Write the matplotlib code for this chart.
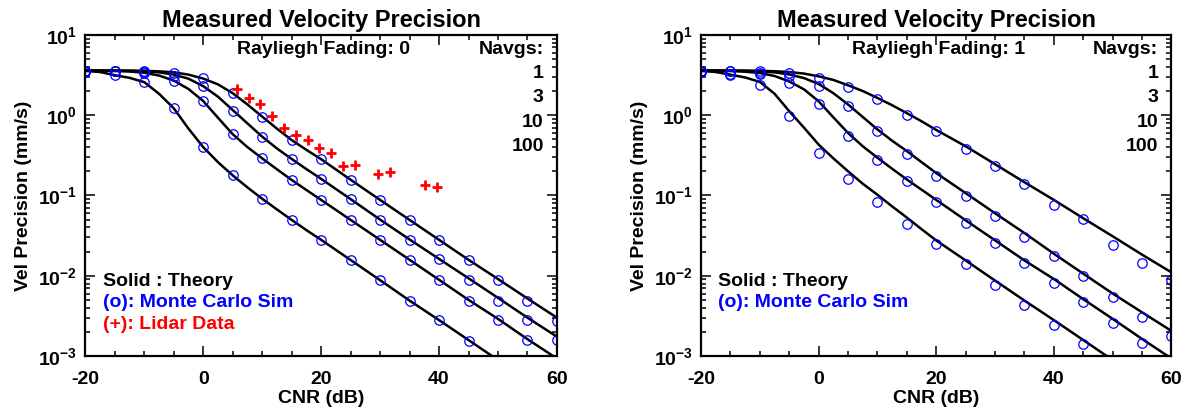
import matplotlib
matplotlib.use('Agg')
import matplotlib.pyplot as plt
from matplotlib.ticker import FixedLocator, LogLocator, NullFormatter

plt.rcParams['font.family'] = ['Liberation Sans', 'DejaVu Sans']
plt.rcParams['font.weight'] = 'bold'
plt.rcParams['mathtext.fontset'] = 'custom'
plt.rcParams['mathtext.bf'] = 'Liberation Sans:bold'
plt.rcParams['mathtext.rm'] = 'Liberation Sans:bold'
plt.rcParams['axes.unicode_minus'] = False

# data
navgs = ['1', '3', '10', '100']
cnr_theory = [-20, -17.5, -15, -12.5, -10, -7.5, -5, -2.5, 0, 2.5, 5, 7.5, 10,
              12.5, 15, 17.5, 20, 25, 30, 35, 40, 45, 50, 55, 60]
cnr_sim = [-20, -15, -10, -5, 0, 5, 10, 15, 20, 25, 30, 35, 40, 45, 50, 55, 60]

# Rayleigh fading 0 : theory
theory0_n1 = [3.6, 3.6, 3.6, 3.59, 3.57, 3.52, 3.42, 3.2, 2.86, 2.42, 1.88, 1.36, 0.96,
              0.68, 0.49, 0.37, 0.283, 0.157, 0.088, 0.0496, 0.028, 0.0158, 0.0091, 0.0052, 0.0030]
theory0_n3 = [3.6, 3.6, 3.59, 3.57, 3.52, 3.42, 3.2, 2.85, 2.3, 1.7, 1.16, 0.79, 0.54,
              0.385, 0.285, 0.213, 0.161, 0.09, 0.05, 0.0283, 0.0162, 0.0093, 0.0053, 0.0030, 0.00174]
theory0_n10 = [3.6, 3.58, 3.55, 3.5, 3.38, 3.12, 2.7, 2.12, 1.5, 0.93, 0.58, 0.4, 0.29,
               0.212, 0.156, 0.117, 0.088, 0.0496, 0.028, 0.0158, 0.0089, 0.0050, 0.0029, 0.00162, 0.00093]
theory0_n100 = [3.56, 3.45, 3.15, 2.92, 2.58, 1.85, 1.22, 0.68, 0.40, 0.26, 0.178, 0.126, 0.091,
                0.067, 0.0496, 0.037, 0.028, 0.0157, 0.0088, 0.0049, 0.0028, 0.00158, 0.00089, 0.0005, 0.00028]

# Rayleigh fading 0 : Monte Carlo
sim0_n1 = [3.6, 3.6, 3.6, 3.4, 2.88, 1.87, 0.95, 0.49, 0.283, 0.156, 0.088, 0.0496, 0.0279,
           0.0157, 0.0089, 0.0049, 0.0027]
sim0_n3 = [3.55, 3.6, 3.5, 3.1, 2.3, 1.14, 0.535, 0.285, 0.161, 0.09, 0.05, 0.028, 0.016,
           0.0089, 0.0049, 0.0028, 0.00158]
sim0_n10 = [3.6, 3.55, 3.35, 2.66, 1.5, 0.575, 0.29, 0.156, 0.088, 0.0496, 0.028, 0.0157, 0.0088,
            0.0049, 0.0028, 0.00158, 0.00088]
sim0_n100 = [3.45, 3.2, 2.6, 1.23, 0.40, 0.178, 0.091, 0.0496, 0.0279, 0.0157, 0.0088, 0.0049, 0.0028,
             0.00155, 0.00088, 0.0005, 0.00028]

# lidar data (fading 0 panel only)
lidar_cnr = [5.7, 7.7, 9.7, 11.7, 13.7, 15.7, 17.7, 19.7, 21.7, 23.7, 25.7, 29.7, 31.7, 37.7, 39.7]
lidar_vals = [2.14, 1.64, 1.37, 0.99, 0.69, 0.57, 0.49, 0.39, 0.335, 0.235, 0.242, 0.185, 0.196,
              0.135, 0.128]

# Rayleigh fading 1 : theory
theory1_n1 = [3.6, 3.6, 3.6, 3.59, 3.57, 3.53, 3.45, 3.3, 3.05, 2.75, 2.36, 2.0, 1.64,
              1.33, 1.06, 0.84, 0.654, 0.41, 0.245, 0.146, 0.088, 0.052, 0.031, 0.0183, 0.011]
theory1_n3 = [3.6, 3.6, 3.59, 3.57, 3.52, 3.42, 3.22, 2.9, 2.45, 1.88, 1.36, 0.95, 0.664,
              0.48, 0.357, 0.26, 0.19, 0.107, 0.06, 0.034, 0.0188, 0.0106, 0.006, 0.0035, 0.00205]
theory1_n10 = [3.6, 3.58, 3.55, 3.48, 3.35, 3.08, 2.63, 2.1, 1.49, 0.94, 0.6, 0.41, 0.295,
               0.215, 0.158, 0.118, 0.088, 0.049, 0.0276, 0.0155, 0.0091, 0.0051, 0.0029, 0.00163, 0.00093]
theory1_n100 = [3.56, 3.45, 3.2, 2.95, 2.6, 1.85, 1.12, 0.7, 0.43, 0.29, 0.2, 0.14, 0.102,
                0.073, 0.053, 0.038, 0.0275, 0.0155, 0.0087, 0.0049, 0.0028, 0.00158, 0.00089, 0.0005, 0.00028]

# Rayleigh fading 1 : Monte Carlo
sim1_n1 = [3.6, 3.6, 3.6, 3.36, 2.91, 2.25, 1.57, 1.02, 0.637, 0.38, 0.231, 0.139, 0.075,
           0.051, 0.0244, 0.0144, 0.0089]
sim1_n3 = [3.55, 3.2, 3.4, 3.05, 2.29, 1.29, 0.63, 0.331, 0.177, 0.0977, 0.055, 0.0307, 0.0174,
           0.0098, 0.0055, 0.0031, 0.00178]
sim1_n10 = [3.6, 3.6, 3.3, 2.52, 1.36, 0.548, 0.276, 0.151, 0.0822, 0.0459, 0.0256, 0.0144, 0.0082,
            0.0047, 0.00256, 0.00147, 0.0008]
sim1_n100 = [3.45, 3.3, 2.38, 0.97, 0.341, 0.159, 0.083, 0.0446, 0.0247, 0.0139, 0.00768, 0.00432,
             0.00246, 0.0014, 0.0008, 0.00045, 0.00025]

panels = [
    (0, [theory0_n1, theory0_n3, theory0_n10, theory0_n100],
     [sim0_n1, sim0_n3, sim0_n10, sim0_n100], True),
    (1, [theory1_n1, theory1_n3, theory1_n10, theory1_n100],
     [sim1_n1, sim1_n3, sim1_n10, sim1_n100], False),
]

fig = plt.figure(figsize=(11.85, 4.09), dpi=100)
axes_pos = [[0.072, 0.1296, 0.398, 0.785], [0.5916, 0.1296, 0.397, 0.785]]

ytick_vals = [1e-3, 1e-2, 1e-1, 1e0, 1e1]
ytick_labels = [r'$\mathbf{10^{-3}}$', r'$\mathbf{10^{-2}}$', r'$\mathbf{10^{-1}}$',
                r'$\mathbf{10^{0}}$', r'$\mathbf{10^{1}}$']

for (fading, theory, sims, show_lidar), pos in zip(panels, axes_pos):
    ax = fig.add_axes(pos)
    for t in theory:
        ax.plot(cnr_theory, t, color='black', lw=1.8, solid_capstyle='round')
    for s in sims:
        ax.plot(cnr_sim, s, ls='none', marker='o', ms=6.8, mfc='none',
                mec='#0000ff', mew=0.9)
    if show_lidar:
        ax.plot(lidar_cnr, lidar_vals, ls='none', marker='+', ms=6.5,
                mec='#ff0000', mew=2.0)

    ax.set_yscale('log')
    ax.set_xlim(-20, 60)
    ax.set_ylim(1e-3, 1e1)
    ax.xaxis.set_major_locator(FixedLocator([-20, 0, 20, 40, 60]))
    ax.xaxis.set_minor_locator(FixedLocator(list(range(-20, 61, 5))))
    ax.set_yticks(ytick_vals)
    ax.set_yticklabels(ytick_labels)
    ax.yaxis.set_minor_locator(LogLocator(base=10, subs=range(2, 10)))
    ax.yaxis.set_minor_formatter(NullFormatter())
    ax.tick_params(which='both', direction='in', top=True, right=True,
                   labelsize=14, width=1.1)
    ax.tick_params(which='major', length=7)
    ax.tick_params(which='minor', length=3.5)
    ax.tick_params(axis='x', which='major', pad=11)
    ax.tick_params(axis='y', which='major', pad=6)
    for sp in ax.spines.values():
        sp.set_linewidth(1.6)

    ax.set_title('Measured Velocity Precision', fontsize=17, fontweight='bold', pad=6)
    ax.set_xlabel('CNR (dB)', fontsize=14, fontweight='bold', labelpad=1)
    ax.set_ylabel('Vel Precision (mm/s)', fontsize=14, fontweight='bold', labelpad=4)

    ax.text(0.505, 0.956, 'Rayliegh Fading: %d' % fading, transform=ax.transAxes,
            ha='center', va='center', fontsize=14, fontweight='bold')
    ax.text(0.972, 0.956, 'Navgs:', transform=ax.transAxes, ha='right', va='center',
            fontsize=14, fontweight='bold')
    for lab, yy in zip(navgs, [0.881, 0.805, 0.727, 0.652]):
        ax.text(0.972, yy, lab, transform=ax.transAxes, ha='right', va='center',
                fontsize=14, fontweight='bold')

    ax.text(0.037, 0.232, 'Solid : Theory', transform=ax.transAxes, ha='left',
            va='center', fontsize=14, fontweight='bold', color='black')
    ax.text(0.037, 0.166, '(o): Monte Carlo Sim', transform=ax.transAxes, ha='left',
            va='center', fontsize=14, fontweight='bold', color='#0000ff')
    if show_lidar:
        ax.text(0.037, 0.099, '(+): Lidar Data', transform=ax.transAxes, ha='left',
                va='center', fontsize=14, fontweight='bold', color='#ff0000')

fig.savefig('out.png', dpi=100)
